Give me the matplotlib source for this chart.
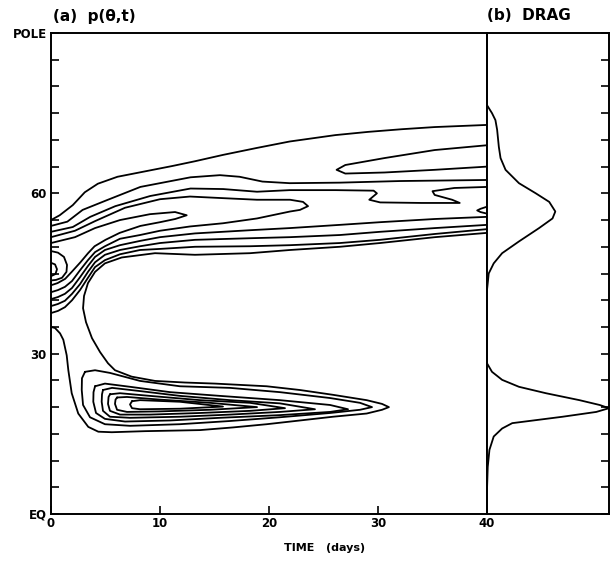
import matplotlib.pyplot as plt

# ---- panel (a): contour lines of p(theta,t) (time in days, latitude in deg)
c1_t = [0, 0.8, 2.0, 3.1, 4.3, 6.1, 8.6, 11.1, 13.2, 15.8, 18.9, 21.9, 26.1, 29.1, 32.2, 35.2, 40]
c1_lat = [55.0, 55.9, 57.8, 60.2, 61.8, 63.1, 64.1, 65.1, 66.0, 67.2, 68.5, 69.7, 70.9, 71.5, 72.0, 72.4, 72.8]

c2_t = [0, 1.5, 2.9, 5.1, 8.2, 12.8, 15.5, 17.3, 19.4, 21.9, 26.5, 32.0, 40]
c2_lat = [53.9, 54.7, 56.9, 58.7, 61.2, 63.0, 63.4, 63.1, 62.2, 61.9, 62.0, 62.3, 62.5]

c3_t = [0, 2.0, 3.6, 5.9, 9.1, 12.8, 15.8, 18.9, 21.9, 26.1, 29.6, 29.9, 29.2, 30.2, 34, 37.5, 36.8, 35.2, 35.0, 37, 40]
c3_lat = [52.8, 53.7, 55.6, 57.6, 59.5, 60.9, 60.8, 60.3, 60.6, 60.6, 60.5, 60.0, 58.8, 58.3, 58.2, 58.2, 58.8, 59.7, 60.4, 61.0, 61.2]

tongue1_t = [40, 35.2, 30.6, 27.0, 26.2, 27.0, 30.6, 35.2, 40]
tongue1_lat = [69.0, 68.1, 66.6, 65.3, 64.4, 63.7, 63.9, 64.4, 65.0]

tongue2_t = [40, 39.4, 39.1, 39.4, 40]
tongue2_lat = [57.5, 57.1, 56.8, 56.5, 56.2]

# long tongue (tip near day 23.6)
tb_t = [0, 2.2, 4.04, 6.79, 10.0, 12.75, 15.78, 18.9, 21.93, 23.12, 23.58,
        22.84, 21.93, 18.9, 15.78, 12.75, 10.0, 8.17, 6.33, 4.95, 4.04, 3.39, 2.66, 1.93, 1.28, 0.64, 0]
tb_lat = [51.8, 53.0, 54.8, 57.3, 58.9, 59.4, 59.1, 58.8, 58.8, 58.4, 57.6,
          56.9, 56.6, 55.3, 54.4, 53.8, 53.0, 52.2, 51.5, 50.1, 49.0, 47.5, 45.6, 43.6, 42.5, 41.9, 41.5]

# short tongue (tip near day 12.5)
ta_t = [0, 2.2, 4.04, 6.33, 9.08, 11.38, 12.45, 11.4, 10.0, 8.2, 6.3, 5.0, 4.0, 3.4, 2.7, 1.9, 1.3, 0.6, 0]
ta_lat = [50.7, 51.8, 53.5, 55.0, 56.1, 56.5, 55.9, 55.2, 54.6, 53.9, 52.6, 51.3, 50.1, 48.8, 47.1, 45.3, 44.0, 43.2, 42.8]

# closed maximum at t = 0
m1_t = [0, 0.64, 1.19, 1.47, 1.42, 1.01, 0.46, 0]
m1_lat = [49.2, 48.9, 48.1, 46.6, 45.3, 44.2, 43.8, 43.7]
m2_t = [0, 0.37, 0.55, 0.41, 0]
m2_lat = [47.0, 46.7, 45.8, 44.9, 44.5]

# lower edges of the poleward band
lb2_t = [40, 35.23, 30.18, 26.5, 21.93, 18.26, 13.21, 10.0, 8.17, 6.33, 4.95, 4.04, 3.39, 2.66, 1.93, 1.28, 0.64, 0]
lb2_lat = [55.6, 55.2, 54.6, 54.1, 53.5, 53.1, 52.5, 51.8, 51.1, 50.3, 49.4, 48.1, 46.4, 44.3, 42.3, 41.2, 40.6, 40.2]
lb3_t = [40, 35.23, 30.18, 26.5, 21.93, 18.26, 13.21, 10.0, 8.17, 6.33, 4.95, 4.04, 3.39, 2.66, 1.93, 1.28, 0.64, 0]
lb3_lat = [54.1, 53.5, 52.8, 52.2, 51.8, 51.6, 51.3, 50.7, 50.1, 49.4, 48.5, 47.1, 45.3, 43.0, 41.2, 39.9, 39.3, 38.9]
lb4_t = [40, 35.23, 30.18, 26.5, 21.93, 18.26, 13.21, 10.0, 8.17, 6.33, 4.95, 4.04, 3.39, 2.66, 1.93, 1.28, 0.64, 0]
lb4_lat = [53.3, 52.4, 51.3, 50.7, 50.3, 50.1, 50.0, 49.6, 49.4, 48.6, 47.5, 46.2, 44.2, 41.9, 40.0, 38.7, 38.0, 37.6]

# outermost contour: lower edge of the band, round the subtropical jet, back to the left edge
outer_t = [40, 35.23, 30.18, 26.5, 21.93, 18.26, 13.21, 9.54, 6.49, 4.95, 4.04, 3.39, 3.03, 2.94, 3.21, 3.76,
           4.5, 5.23, 5.87, 7.4, 9.54, 12.29, 15.05, 19.79, 22.84, 25.87, 28.96, 30.37, 31.0,
           30.37, 28.96, 25.87, 22.84, 19.79, 16.7, 13.67, 8.62, 5.57, 4.34, 3.42, 2.5, 1.9, 1.59,
           1.44, 1.13, 0.83, 0.37, 0]
outer_lat = [52.6, 51.8, 50.7, 50.0, 49.4, 48.8, 48.5, 48.8, 48.0, 46.9, 45.3, 43.2, 40.8, 38.5, 35.9, 32.9,
             30.3, 28.2, 26.9, 25.7, 24.9, 24.6, 24.4, 23.9, 23.2, 22.3, 21.3, 20.6, 20.0,
             19.5, 18.8, 18.2, 17.5, 16.8, 16.2, 15.7, 15.5, 15.3, 15.4, 16.3, 18.8, 22.6, 26.9,
             29.7, 32.6, 33.8, 34.8, 35.0]

# nested closed contours of the subtropical jet
la_t = [3.12, 4.04, 5.41, 8.17, 11.83, 16.42, 21.0, 25.6, 28.35, 29.45, 28.35, 25.6, 21.0, 16.42, 11.83,
        7.25, 4.95, 3.58, 2.94, 2.82, 2.84, 3.12]
la_lat = [26.6, 26.9, 26.4, 24.9, 23.9, 23.6, 22.8, 21.7, 20.8, 20.0, 19.5, 18.9, 18.1, 17.4, 16.8,
          16.5, 16.8, 18.1, 20.4, 23.2, 25.4, 26.6]
lb_t = [4.04, 4.95, 7.25, 10.92, 15.5, 21.0, 25.6, 27.25, 25.6, 21.0, 15.5, 10.92, 6.79, 4.95, 4.13, 3.88, 3.9, 4.04]
lb_lat = [23.9, 24.4, 23.8, 22.8, 22.1, 21.3, 20.4, 19.6, 19.1, 18.5, 18.0, 17.5, 17.3, 17.8, 18.9, 21.0, 22.8, 23.9]
lc_t = [4.77, 5.6, 8.17, 11.83, 16.42, 21.0, 24.22, 21.0, 16.42, 11.83, 7.25, 5.41, 4.77, 4.65, 4.68, 4.77]
lc_lat = [23.2, 23.6, 23.0, 22.1, 21.3, 20.7, 19.6, 19.1, 18.6, 18.2, 18.0, 18.2, 19.3, 21.0, 22.4, 23.2]
ld_t = [5.41, 6.33, 9.08, 13.67, 18.26, 21.47, 18.26, 13.67, 9.08, 6.33, 5.41, 5.23, 5.28, 5.41]
ld_lat = [22.4, 22.6, 22.1, 21.3, 20.8, 19.8, 19.3, 18.9, 18.6, 18.6, 19.3, 20.6, 21.9, 22.4]
le_t = [6.06, 6.97, 10.0, 14.59, 18.9, 14.59, 10.0, 6.97, 6.06, 5.87, 5.92, 6.06]
le_lat = [21.8, 21.9, 21.4, 20.8, 20.0, 19.5, 19.2, 19.1, 19.5, 20.6, 21.4, 21.8]
lf_t = [7.43, 8.17, 11.83, 15.78, 11.83, 8.17, 7.43, 7.25, 7.43]
lf_lat = [21.1, 21.3, 21.0, 20.1, 19.7, 19.6, 19.8, 20.5, 21.1]

# ---- panel (b): drag profile (relative units) against latitude
drag_lat = [90, 76.5, 75.0, 73.7, 71.9, 68.7, 66.6, 64.4, 61.9, 60.0, 58.4, 56.6, 55.3, 53.5, 51.0, 48.8,
            46.9, 45.0, 43.2, 41.9, 28.2, 26.6, 25.1, 23.8, 22.6, 21.3, 20.4, 19.8, 19.1, 18.2, 17.4,
            17.0, 16.0, 14.5, 12.0, 8.8, 4.5, 0]
drag_val = [0, 0, 0.041, 0.069, 0.083, 0.097, 0.111, 0.152, 0.262, 0.40, 0.51, 0.56, 0.537, 0.427, 0.262, 0.124,
            0.055, 0.014, 0.006, 0, 0, 0.041, 0.124, 0.262, 0.483, 0.758, 0.923, 1.0, 0.896, 0.62, 0.345,
            0.207, 0.124, 0.055, 0.02, 0.006, 0, 0]

lines = [(c1_t, c1_lat), (c2_t, c2_lat), (c3_t, c3_lat), (tongue1_t, tongue1_lat),
         (tongue2_t, tongue2_lat), (tb_t, tb_lat), (ta_t, ta_lat), (m1_t, m1_lat), (m2_t, m2_lat),
         (lb2_t, lb2_lat), (lb3_t, lb3_lat), (lb4_t, lb4_lat), (outer_t, outer_lat),
         (la_t, la_lat), (lb_t, lb_lat), (lc_t, lc_lat), (ld_t, ld_lat), (le_t, le_lat), (lf_t, lf_lat)]

fig = plt.figure(figsize=(6.11, 5.61), dpi=100)
ax = fig.add_axes([51/611, 47/561, 436/611, 481/561])
ax2 = fig.add_axes([487/611, 47/561, 122/611, 481/561])

for t, lat in lines:
    ax.plot(t, lat, color='black', lw=1.3, solid_joinstyle='round', solid_capstyle='round')

ax.set_xlim(0, 40)
ax.set_ylim(0, 90)
yt = list(range(0, 91, 5))
ylab = {0: 'EQ', 30: '30', 60: '60', 90: 'POLE'}
ax.set_yticks(yt)
ax.set_yticklabels([ylab.get(v, '') for v in yt], fontsize=8.5, fontweight='bold')
ax.set_xticks([0, 10, 20, 30, 40])
ax.set_xticklabels(['0', '10', '20', '30', '40'], fontsize=8.5, fontweight='bold')
ax.tick_params(direction='in', length=6, width=1.2, pad=2)
ax.tick_params(axis='y', pad=3)
for s in ax.spines.values():
    s.set_linewidth(1.4)

ax2.plot(drag_val, drag_lat, color='black', lw=1.3)
ax2.set_xlim(0, 1.0)
ax2.set_ylim(0, 90)
ax2.set_xticks([])
ax2.yaxis.tick_right()
ax2.set_yticks(yt)
ax2.set_yticklabels([])
ax2.tick_params(direction='in', length=6, width=1.2)
for s in ax2.spines.values():
    s.set_linewidth(1.4)

fig.text(53/611, 1 - 16/561, '(a)  p(\u03b8,t)', fontsize=11, fontweight='bold', va='center', ha='left')
fig.text(487/611, 1 - 16/561, '(b)  DRAG', fontsize=11, fontweight='bold', va='center', ha='left')
fig.text(325/611, 1 - 548/561, 'TIME   (days)', fontsize=8, fontweight='bold', ha='center', va='center')

fig.savefig('out.png', dpi=100)
